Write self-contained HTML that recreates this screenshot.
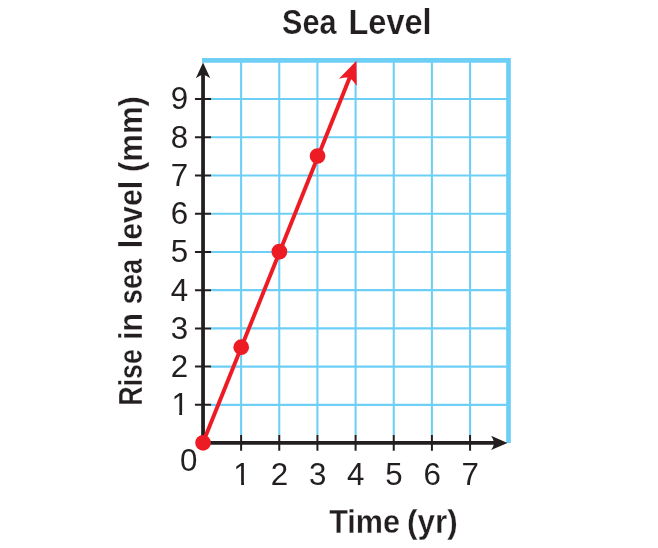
<!DOCTYPE html>
<html lang="en"><head><meta charset="utf-8"><title>Sea Level</title>
<style>html,body{margin:0;padding:0;background:#fff}body{width:658px;height:548px;overflow:hidden}svg{display:block}text{font-family:"Liberation Sans",sans-serif;fill:#231f20}</style></head><body>
<svg width="658" height="548" viewBox="0 0 658 548">
<rect width="658" height="548" fill="#fff"/>
<path d="M241.11 60.40V435.35M279.27 60.40V435.35M317.43 60.40V435.35M355.59 60.40V435.35M393.75 60.40V435.35M431.91 60.40V435.35M470.07 60.40V435.35M210.65 404.86H508.50M210.65 366.62H508.50M210.65 328.38H508.50M210.65 290.14H508.50M210.65 251.90H508.50M210.65 213.66H508.50M210.65 175.42H508.50M210.65 137.18H508.50M210.65 98.94H508.50" stroke="#6dcff6" stroke-width="2.05" fill="none"/>
<path d="M202.00 60.40H508.50V443.00" stroke="#6dcff6" stroke-width="4.7" fill="none" stroke-linejoin="miter"/>
<path d="M203.05 444.72V72.00" stroke="#231f20" stroke-width="3.75" fill="none"/>
<path d="M201.18 442.85H497.00" stroke="#231f20" stroke-width="3.75" fill="none"/>
<path d="M241.11 434.95V450.75M279.27 434.95V450.75M317.43 434.95V450.75M355.59 434.95V450.75M393.75 434.95V450.75M431.91 434.95V450.75M470.07 434.95V450.75M194.95 404.86H211.05M194.95 366.62H211.05M194.95 328.38H211.05M194.95 290.14H211.05M194.95 251.90H211.05M194.95 213.66H211.05M194.95 175.42H211.05M194.95 137.18H211.05M194.95 98.94H211.05" stroke="#231f20" stroke-width="2" fill="none"/>
<path d="M203.05 62.40L210.25 78.30Q206.65 75.55 203.05 74.40Q199.45 75.55 195.85 78.30Z" fill="#231f20"/>
<path d="M507.50 442.95L491.10 450.05Q493.50 446.50 494.30 442.95Q493.50 439.40 491.10 435.85Z" fill="#231f20"/>
<path d="M203.05 442.60L350.11 76.47" stroke="#ed1c24" stroke-width="3.95" fill="none"/>
<path d="M356.45 60.70L356.71 85.81Q353.54 80.82 349.63 77.68Q344.63 77.24 338.89 78.65Z" fill="#ed1c24"/>
<circle cx="203.05" cy="442.80" r="7.85" fill="#ed1c24"/>
<circle cx="241.21" cy="347.20" r="7.85" fill="#ed1c24"/>
<circle cx="279.37" cy="251.60" r="7.85" fill="#ed1c24"/>
<circle cx="317.53" cy="156.00" r="7.85" fill="#ed1c24"/>
<text y="34.12" font-size="35.3" font-weight="700" stroke="#fff" stroke-width="0.24"><tspan x="282.00" textLength="54.43" lengthAdjust="spacingAndGlyphs">Sea</tspan> <tspan x="348.51" textLength="83.01" lengthAdjust="spacingAndGlyphs">Level</tspan></text>
<text y="533.30" font-size="32.5" font-weight="700" stroke="#fff" stroke-width="0.30"><tspan x="329.21" textLength="70.88" lengthAdjust="spacingAndGlyphs">Time</tspan> <tspan x="407.08" textLength="50.74" lengthAdjust="spacingAndGlyphs">(yr)</tspan></text>
<text transform="translate(142.05 0) rotate(-90)" y="0" font-size="32.3" font-weight="700" stroke="#fff" stroke-width="0.30"><tspan x="-405.75" textLength="56.71" lengthAdjust="spacingAndGlyphs">Rise</tspan> <tspan x="-339.86" textLength="26.89" lengthAdjust="spacingAndGlyphs">in</tspan> <tspan x="-304.21" textLength="45.38" lengthAdjust="spacingAndGlyphs">sea</tspan> <tspan x="-248.16" textLength="67.36" lengthAdjust="spacingAndGlyphs">level</tspan> <tspan x="-172.10" textLength="76.00" lengthAdjust="spacingAndGlyphs">(mm)</tspan></text>
<clipPath id="c180"><path d="M166.10 385.26H194.10V411.80H182.08V418.26H179.22V411.80H166.10Z"/></clipPath>
<text x="180.10" y="415.26" font-size="32" text-anchor="middle" textLength="17.40" lengthAdjust="spacingAndGlyphs" clip-path="url(#c180)">1</text>
<text x="179.40" y="377.02" font-size="32" text-anchor="middle" textLength="17.40" lengthAdjust="spacingAndGlyphs">2</text>
<text x="179.40" y="338.78" font-size="32" text-anchor="middle" textLength="17.40" lengthAdjust="spacingAndGlyphs">3</text>
<text x="179.40" y="300.54" font-size="32" text-anchor="middle" textLength="17.40" lengthAdjust="spacingAndGlyphs">4</text>
<text x="179.40" y="262.30" font-size="32" text-anchor="middle" textLength="17.40" lengthAdjust="spacingAndGlyphs">5</text>
<text x="179.40" y="224.06" font-size="32" text-anchor="middle" textLength="17.40" lengthAdjust="spacingAndGlyphs">6</text>
<text x="179.40" y="185.82" font-size="32" text-anchor="middle" textLength="17.40" lengthAdjust="spacingAndGlyphs">7</text>
<text x="179.40" y="147.58" font-size="32" text-anchor="middle" textLength="17.40" lengthAdjust="spacingAndGlyphs">8</text>
<text x="179.40" y="109.34" font-size="32" text-anchor="middle" textLength="17.40" lengthAdjust="spacingAndGlyphs">9</text>
<clipPath id="c242"><path d="M228.01 454.90H256.01V481.80H243.99V487.90H241.13V481.80H228.01Z"/></clipPath>
<text x="242.01" y="484.90" font-size="32" text-anchor="middle" textLength="17.40" lengthAdjust="spacingAndGlyphs" clip-path="url(#c242)">1</text>
<text x="279.47" y="484.90" font-size="32" text-anchor="middle" textLength="17.40" lengthAdjust="spacingAndGlyphs">2</text>
<text x="317.63" y="484.90" font-size="32" text-anchor="middle" textLength="17.40" lengthAdjust="spacingAndGlyphs">3</text>
<text x="355.79" y="484.90" font-size="32" text-anchor="middle" textLength="17.40" lengthAdjust="spacingAndGlyphs">4</text>
<text x="393.95" y="484.90" font-size="32" text-anchor="middle" textLength="17.40" lengthAdjust="spacingAndGlyphs">5</text>
<text x="432.11" y="484.90" font-size="32" text-anchor="middle" textLength="17.40" lengthAdjust="spacingAndGlyphs">6</text>
<text x="470.27" y="484.90" font-size="32" text-anchor="middle" textLength="17.40" lengthAdjust="spacingAndGlyphs">7</text>
<text x="188.60" y="470.80" font-size="32" text-anchor="middle" textLength="17.40" lengthAdjust="spacingAndGlyphs">0</text>
</svg></body></html>
